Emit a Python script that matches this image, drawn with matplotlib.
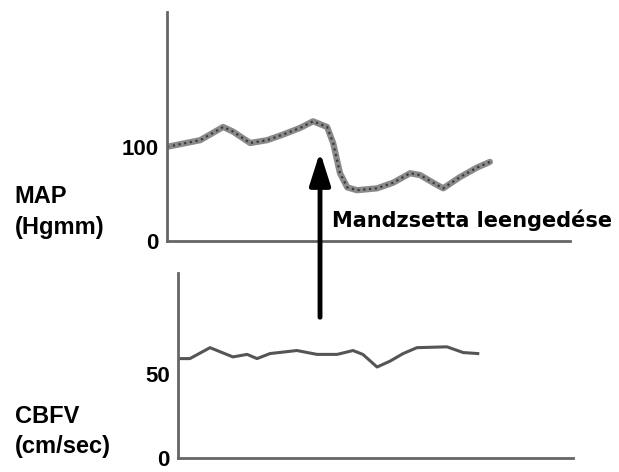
import matplotlib
matplotlib.use("Agg")
import matplotlib.pyplot as plt

# MAP trace (time in arbitrary units, pressure in Hgmm)
map_t = [0, 8.2, 13.9, 16.4, 20.6, 24.8, 28.8, 33.0, 36.2, 39.7, 41.2, 42.9,
         44.7, 47.1, 52.1, 56.1, 60.3, 62.8, 66.0, 68.5, 72.7, 76.9, 80.1]
map_v = [100, 107, 121, 116, 104, 107, 113, 120, 127, 121, 104, 72,
         57, 54, 56, 62, 72, 70, 62, 56, 68, 78, 84]

# CBFV trace (cm/sec)
cbfv_t = [0, 3.0, 8.1, 13.9, 17.5, 20.0, 23.3, 30.1, 35.2, 40.3, 44.3, 46.8,
          50.4, 53.7, 57.0, 60.5, 68.1, 72.2, 75.9]
cbfv_v = [59, 59, 65.5, 60, 61.5, 59, 62, 63.8, 61.5, 61.5, 63.8, 61.5,
          54, 57.5, 62, 65.5, 66, 62.6, 62]

map_ticks = [0, 100]
cbfv_ticks = [0, 50]

fig = plt.figure(figsize=(6.19, 4.72), dpi=100)
ax1 = fig.add_axes([0.270, 0.489, 0.651, 0.486])
ax2 = fig.add_axes([0.2876, 0.03, 0.638, 0.392])

for ax in (ax1, ax2):
    for s in ("top", "right"):
        ax.spines[s].set_visible(False)
    for s in ("left", "bottom"):
        ax.spines[s].set_color("#666666")
        ax.spines[s].set_linewidth(2)
    ax.set_xlim(0, 100)
    ax.set_xticks([])
    ax.tick_params(axis="y", length=0, pad=6)

# top panel
ax1.plot(map_t, map_v, color="#8a8a8a", lw=4.5, solid_capstyle="round")
ax1.plot(map_t, map_v, color="#3a3a3a", lw=1.6, dashes=(1, 1.6))
ax1.set_ylim(0, 243)
ax1.set_yticks(map_ticks)
ax1.set_yticklabels([str(v) for v in map_ticks], fontsize=16,
                    fontweight="bold", family="Liberation Sans")

# bottom panel
ax2.plot(cbfv_t, cbfv_v, color="#555555", lw=2.2)
ax2.set_ylim(0, 110)
ax2.set_yticks(cbfv_ticks)
ax2.set_yticklabels([str(v) for v in cbfv_ticks], fontsize=16,
                    fontweight="bold", family="Liberation Sans")

lab = dict(fontsize=17, fontweight="bold", family="Liberation Sans",
           ha="left", va="center")
fig.text(0.024, 0.583, "MAP", **lab)
fig.text(0.024, 0.519, "(Hgmm)", **lab)
fig.text(0.024, 0.118, "CBFV", **lab)
fig.text(0.024, 0.055, "(cm/sec)", **lab)

fig.text(0.536, 0.534, "Mandzsetta leengedése", fontsize=15,
         fontweight="bold", family="DejaVu Sans", ha="left", va="center")

fig.add_artist(matplotlib.patches.FancyArrowPatch(
    (0.517, 0.322), (0.517, 0.684), transform=fig.transFigure,
    arrowstyle="-|>,head_length=1.1,head_width=0.35", mutation_scale=18,
    lw=3.5, color="black"))

fig.savefig("out.png", dpi=100)
